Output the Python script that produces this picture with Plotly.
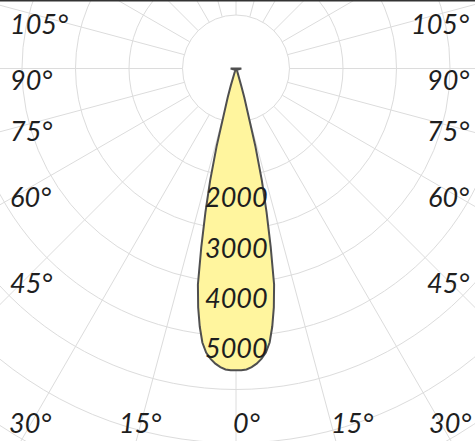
import numpy as np
import plotly.graph_objects as go

# ---------------- data ----------------
# half beam profile (symmetric): angle from nadir (deg) -> intensity (cd)
beam_angle = [0, 1, 2, 3, 4, 5, 6, 7, 8, 9, 10, 11, 12, 13, 14, 15, 16, 17, 18, 20, 30, 60, 90, 180]
beam_cd = [5640, 5640, 5630, 5590, 5530, 5450, 5340, 5160, 4870, 4520, 4100, 3400, 2750, 2150,
           1500, 950, 560, 330, 200, 60, 30, 40, 100, 0]

ring_cd = [1000, 2000, 3000, 4000, 5000, 6000, 7000, 8000]
spoke_angle = list(range(0, 360, 15))

intensity_labels = [2000, 3000, 4000, 5000]
left_labels = ["105°", "90°", "75°", "60°", "45°"]
right_labels = ["105°", "90°", "75°", "60°", "45°"]
bottom_labels = ["30°", "15°", "0°", "15°", "30°"]

# ---------------- layout geometry ----------------
W, H = 475, 441
PX_PER_CD = 0.0535
CX, CY = 236.0, 68.5          # pole position in pixels from top-left
SPOKE_IN, SPOKE_OUT = 1000, 9500
LABEL_SCALE, LABEL_OFFSET = 0.94, 520   # intensity-label placement along the nadir axis

side_label_y = [23, 79, 131, 196, 282]       # px from top
bottom_label_x = [30, 140, 246, 352, 450]    # px from left
bottom_label_y = 422

FONT = dict(family="Lato, Roboto, sans-serif", weight=400,
            size=27, color="#1e1e1e", style="italic")
GRID = "#dcdcdc"


def to_xy(theta_deg, r):
    t = np.radians(np.asarray(theta_deg, dtype=float))
    r = np.asarray(r, dtype=float)
    return r * np.sin(t), -r * np.cos(t)


fig = go.Figure()

# rings
shapes = []
for r in ring_cd:
    shapes.append(dict(type="circle", xref="x", yref="y", x0=-r, y0=-r, x1=r, y1=r,
                       line=dict(color=GRID, width=1), layer="below"))

# spokes
sx, sy = [], []
for a in spoke_angle:
    x, y = to_xy([a, a], [SPOKE_IN, SPOKE_OUT])
    sx += list(x) + [None]
    sy += list(y) + [None]
fig.add_trace(go.Scatter(x=sx, y=sy, mode="lines", line=dict(color=GRID, width=1),
                         hoverinfo="skip"))

# beam (mirror half profile)
full_angle = [-a for a in beam_angle[::-1]] + beam_angle[1:]
full_cd = beam_cd[::-1] + beam_cd[1:]
bx, by = to_xy(full_angle, full_cd)
fig.add_trace(go.Scatter(x=bx, y=by, mode="lines", fill="toself",
                         fillcolor="#fff59e", line=dict(color="#4f4f4f", width=2),
                         hoverinfo="skip"))

annotations = []
for v in intensity_labels:
    annotations.append(dict(x=0, y=-(v * LABEL_SCALE + LABEL_OFFSET), xref="x", yref="y",
                            text=str(v), showarrow=False, font=FONT))
for t, ypx in zip(left_labels, side_label_y):
    annotations.append(dict(x=0, y=1 - ypx / H, xref="paper", yref="paper", text=t,
                            xanchor="left", yanchor="middle", xshift=8, showarrow=False, font=FONT))
for t, ypx in zip(right_labels, side_label_y):
    annotations.append(dict(x=1, y=1 - ypx / H, xref="paper", yref="paper", text=t,
                            xanchor="right", yanchor="middle", xshift=-4, showarrow=False, font=FONT))
for t, xpx in zip(bottom_labels, bottom_label_x):
    annotations.append(dict(x=xpx / W, y=1 - bottom_label_y / H, xref="paper", yref="paper",
                            text=t, xanchor="center", yanchor="middle", showarrow=False, font=FONT))

shapes.append(dict(type="line", xref="paper", yref="paper", x0=0, x1=1, y0=1, y1=1,
                   line=dict(color="#333333", width=3)))

fig.update_layout(
    width=W, height=H, margin=dict(l=0, r=0, t=0, b=0),
    paper_bgcolor="white", plot_bgcolor="white", showlegend=False,
    xaxis=dict(range=[-CX / PX_PER_CD, (W - CX) / PX_PER_CD], visible=False, fixedrange=True),
    yaxis=dict(range=[-(H - CY) / PX_PER_CD, CY / PX_PER_CD], visible=False, fixedrange=True),
    shapes=shapes, annotations=annotations,
)

fig.write_html("out.html", config={"displayModeBar": False},
               post_script="document.body.style.margin='0';document.body.style.overflow='hidden';")
